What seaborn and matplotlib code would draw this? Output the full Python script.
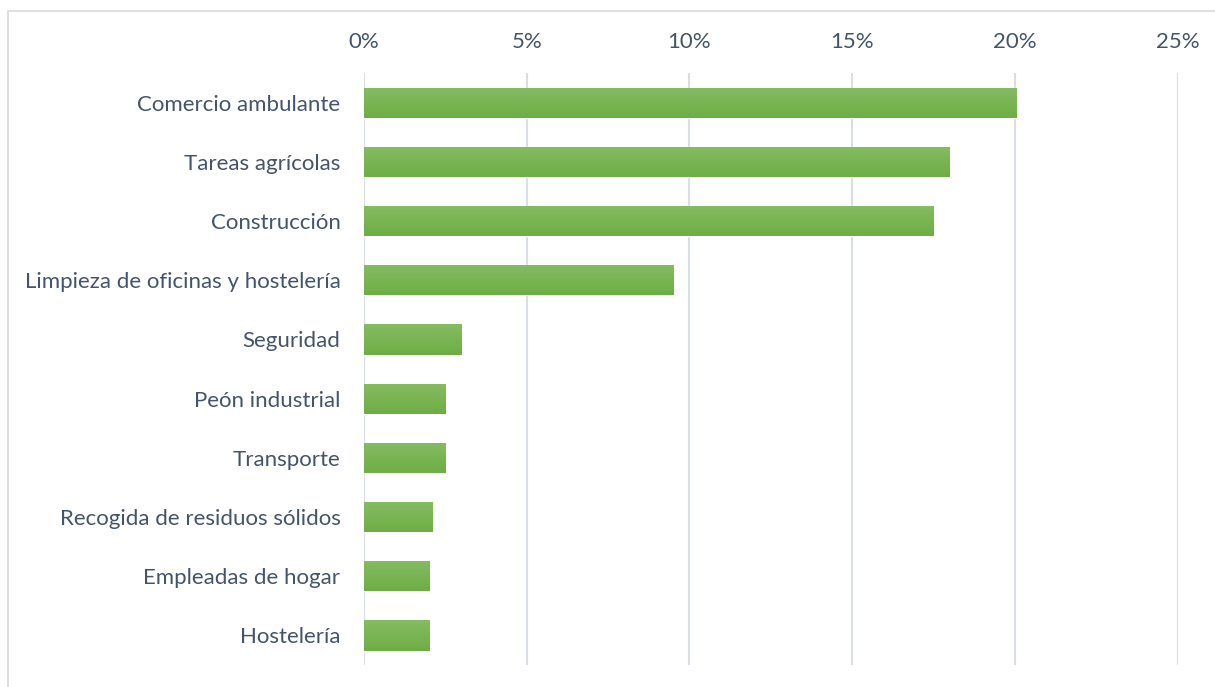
import numpy as np
import pandas as pd
import matplotlib
matplotlib.use("Agg")
import matplotlib.pyplot as plt
import seaborn as sns
from matplotlib.patches import Rectangle
from matplotlib.colors import LinearSegmentedColormap
from matplotlib.ticker import PercentFormatter

categories = ["Comercio ambulante", "Tareas agrícolas", "Construcción",
              "Limpieza de oficinas y hostelería", "Seguridad", "Peón industrial",
              "Transporte", "Recogida de residuos sólidos", "Empleadas de hogar",
              "Hostelería"]
shares = [20.05, 18.0, 17.5, 9.5, 3.0, 2.5, 2.5, 2.1, 2.0, 2.0]

df = pd.DataFrame({"Sector": categories, "Share": shares})

sns.set_theme(style="white")
plt.rcParams['font.family'] = ['Lato', 'DejaVu Sans']
text_col = "#44546A"
grid_col = "#D9DEE6"

fig = plt.figure(figsize=(12.15, 6.87), dpi=100)
ax = fig.add_axes([0.2996, 0.032, 0.6697, 0.8617])

sns.barplot(data=df, x="Share", y="Sector", orient="h", color="#77B255",
            width=0.51, ax=ax, zorder=3)

# vertical gradient inside each bar
grad = LinearSegmentedColormap.from_list("g", ["#86BB64", "#6EAE44"])
for p in ax.patches:
    x0, y0 = p.get_x(), p.get_y()
    w, h = p.get_width(), p.get_height()
    im = ax.imshow(np.linspace(0, 1, 50).reshape(-1, 1), cmap=grad, aspect="auto",
                   extent=[x0, x0 + w, y0 + h, y0], zorder=4)
    im.set_clip_path(p)

ax.set_xlim(0, 25)
ax.set_ylim(len(categories) - 0.5, -0.5)
ax.set_xticks([0, 5, 10, 15, 20, 25])
ax.xaxis.set_major_formatter(PercentFormatter(decimals=0))
ax.xaxis.tick_top()
ax.grid(axis="x", color=grid_col, linewidth=1.5, zorder=0)
ax.tick_params(axis="x", length=0, pad=15, labelsize=16, labelcolor=text_col)
ax.tick_params(axis="y", length=0, pad=17, labelsize=16, labelcolor=text_col)
ax.set_xlabel("")
ax.set_ylabel("")
for s in ax.spines.values():
    s.set_visible(False)

# chart border like the office frame
fig.patches.append(Rectangle((8 / 1215, -0.05), 1.1, 1.05 - 11 / 687,
                             transform=fig.transFigure, fill=False,
                             edgecolor="#D9D9D9", linewidth=1.2))

fig.savefig("out.png", dpi=100)
